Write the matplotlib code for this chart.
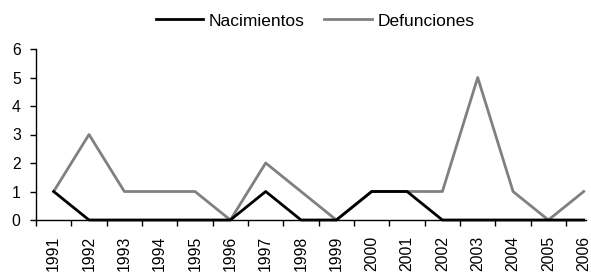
import matplotlib
matplotlib.use('Agg')
import matplotlib.pyplot as plt
import numpy as np

years = [str(y) for y in range(1991, 2007)]
nacimientos = [1, 0, 0, 0, 0, 0, 1, 0, 0, 1, 1, 0, 0, 0, 0, 0]
defunciones = [1, 3, 1, 1, 1, 0, 2, 1, 0, 1, 1, 1, 5, 1, 0, 1]

plt.rcParams['font.family'] = ['Liberation Sans', 'DejaVu Sans']
plt.rcParams['font.size'] = 11.3

fig = plt.figure(figsize=(5.91, 2.75), dpi=100)
ax = fig.add_axes([36 / 591, 55 / 275, (585.5 - 36) / 591, (220 - 49) / 275])

x = np.arange(len(years))
ax.plot(x, nacimientos, color='black', lw=2, label='Nacimientos', clip_on=False, zorder=3)
ax.plot(x, defunciones, color='#808080', lw=2, label='Defunciones', clip_on=False, zorder=2)

ax.set_ylim(0, 6)
ax.set_yticks(range(7))
ax.set_xlim(-0.5, 15.05)
ax.set_xticks(x)
ax.set_xticklabels(years, rotation=90)
ax.set_xticks(np.arange(-0.5, 15, 1), minor=True)
ax.tick_params(axis='x', which='major', length=0, pad=11.5)
ax.tick_params(axis='x', which='minor', length=4, width=1, direction='out')
ax.tick_params(axis='y', length=4, width=1, direction='out', pad=7)
ax.spines['top'].set_visible(False)
ax.spines['right'].set_visible(False)
for s in ['left', 'bottom']:
    ax.spines[s].set_linewidth(1)

fig.legend(loc='center', bbox_to_anchor=(315 / 591, 1 - 21 / 275), ncol=2, frameon=False,
           handlelength=2.75, handletextpad=0.3, columnspacing=1.15, fontsize=12.5)

fig.savefig('out.png', dpi=100)
